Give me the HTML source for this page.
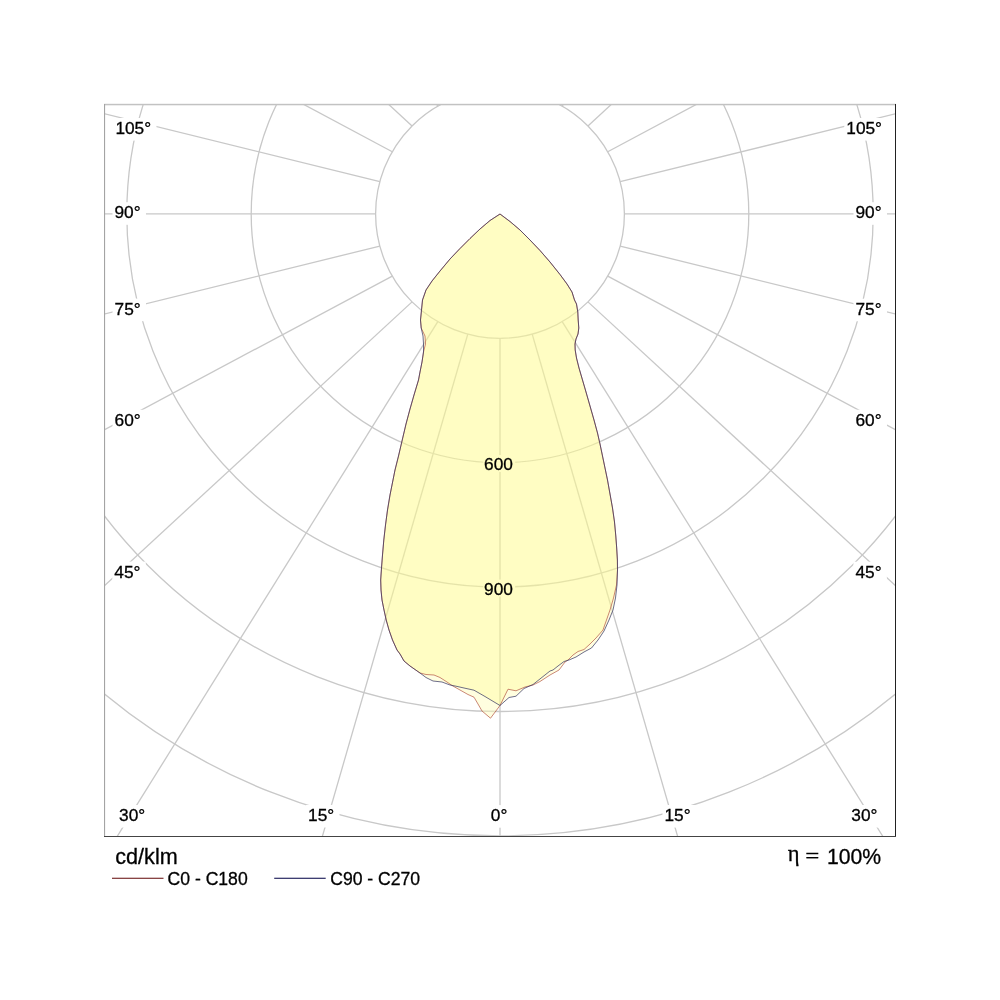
<!DOCTYPE html>
<html lang="en">
<head>
<meta charset="utf-8">
<title>Polar luminous intensity diagram</title>
<style>
html,body{margin:0;padding:0;background:#fff;}
body{width:1000px;height:1000px;overflow:hidden;font-family:"Liberation Sans",sans-serif;}
svg{display:block;}
</style>
</head>
<body>
<svg width="1000" height="1000" viewBox="0 0 1000 1000">
<defs><clipPath id="fc"><rect x="104.5" y="104.5" width="791" height="732"/></clipPath></defs>
<rect x="0" y="0" width="1000" height="1000" fill="#ffffff"/>
<g clip-path="url(#fc)">
<g fill="none" stroke="#c8c8c8" stroke-width="1.3">
<circle cx="500" cy="213.9" r="124.4"/>
<circle cx="500" cy="213.9" r="248.8"/>
<circle cx="500" cy="213.9" r="373.2"/>
<circle cx="500" cy="213.9" r="497.6"/>
<circle cx="500" cy="213.9" r="622"/>
<line x1="500" y1="338.3" x2="500" y2="1538.3"/>
<line x1="532.2" y1="334.06" x2="865.91" y2="1486.72"/>
<line x1="467.8" y1="334.06" x2="134.09" y2="1486.72"/>
<line x1="562.2" y1="321.63" x2="1196.6" y2="1340.23"/>
<line x1="437.8" y1="321.63" x2="-196.6" y2="1340.23"/>
<line x1="587.96" y1="301.86" x2="1469.98" y2="1115.53"/>
<line x1="412.04" y1="301.86" x2="-469.98" y2="1115.53"/>
<line x1="607.73" y1="276.1" x2="1666.37" y2="841.16"/>
<line x1="392.27" y1="276.1" x2="-666.37" y2="841.16"/>
<line x1="620.16" y1="246.1" x2="1785.28" y2="533.31"/>
<line x1="379.84" y1="246.1" x2="-785.28" y2="533.31"/>
<line x1="624.4" y1="213.9" x2="1824.4" y2="213.9"/>
<line x1="375.6" y1="213.9" x2="-824.4" y2="213.9"/>
<line x1="620.16" y1="181.7" x2="1785.28" y2="-105.51"/>
<line x1="379.84" y1="181.7" x2="-785.28" y2="-105.51"/>
<line x1="607.73" y1="151.7" x2="1666.37" y2="-413.36"/>
<line x1="392.27" y1="151.7" x2="-666.37" y2="-413.36"/>
<line x1="587.96" y1="125.94" x2="1469.98" y2="-687.73"/>
<line x1="412.04" y1="125.94" x2="-469.98" y2="-687.73"/>
<line x1="562.2" y1="106.17" x2="1196.6" y2="-912.43"/>
<line x1="437.8" y1="106.17" x2="-196.6" y2="-912.43"/>
<line x1="532.2" y1="93.74" x2="865.91" y2="-1058.92"/>
<line x1="467.8" y1="93.74" x2="134.09" y2="-1058.92"/>
</g>
<rect x="113.39" y="118" width="43.08" height="22.6" fill="#ffffff"/>
<rect x="112.51" y="202.2" width="33.46" height="22.6" fill="#ffffff"/>
<rect x="112.56" y="298.6" width="33.46" height="22.6" fill="#ffffff"/>
<rect x="112.56" y="409.75" width="33.46" height="22.6" fill="#ffffff"/>
<rect x="112.31" y="561.6" width="33.46" height="22.6" fill="#ffffff"/>
<rect x="117.06" y="805" width="33.46" height="22.6" fill="#ffffff"/>
<rect x="306.04" y="804.9" width="33.46" height="22.6" fill="#ffffff"/>
<rect x="488.81" y="805.1" width="23.84" height="22.6" fill="#ffffff"/>
<rect x="662.49" y="805" width="33.46" height="22.6" fill="#ffffff"/>
<rect x="849.31" y="805" width="33.46" height="22.6" fill="#ffffff"/>
<rect x="853.41" y="561.7" width="33.46" height="22.6" fill="#ffffff"/>
<rect x="853.51" y="409.7" width="33.46" height="22.6" fill="#ffffff"/>
<rect x="853.51" y="298.7" width="33.46" height="22.6" fill="#ffffff"/>
<rect x="853.51" y="202.2" width="33.46" height="22.6" fill="#ffffff"/>
<rect x="844.29" y="118" width="43.08" height="22.6" fill="#ffffff"/>
<rect x="483.2" y="455" width="32" height="17" fill="#ffffff"/>
<rect x="483.2" y="579.6" width="32" height="17" fill="#ffffff"/>
<path d="M500 214 L510 221.5 L520 230 L530 240 L540 250.5 L550 262 L560 274.5 L567 284 L572 292 L574.5 300 L576.5 304 L577.8 312 L578.2 320 L578.8 328 L578 334 L576 339 L575 344 L575.2 350 L576.5 358 L579 368 L582.5 380 L586 392 L590 406 L594 420 L597.5 433 L600 444 L602.5 456 L605 468 L607.5 480 L610 494 L612.5 508 L614.5 522 L615.8 536 L616.7 548 L617.4 560 L617.5 570 L616.5 585 L613.5 598 L610 610 L606.5 620 L603 630 L596 638 L590 644 L584 649.5 L578 651.5 L573 655 L568 660 L565 662 L559 670 L550 675 L540 681.5 L533 685 L525 687 L516 690.8 L508 689.2 L500 705.5 L490.5 718.2 L482 711 L478 704 L474 697.2 L468 694.5 L460 690 L452 685.5 L447 682 L440 677.5 L434 675 L426 674.5 L420 673 L410 666 L404 661 L400 654 L397 650 L392.5 640 L389 630 L386.2 620 L384 610 L382 600 L381 590 L380.7 580 L381 575 L381.5 568 L382.5 555 L383.8 540 L385.5 525 L387.5 510 L390 495 L393 480 L395 470 L398.5 456 L402 441 L406 424 L410 409 L414 395 L418.5 380 L420 372 L422 362 L423.5 352 L425.5 344 L425 336 L421.2 328 L420.5 320 L421.5 310 L422.5 300 L426 290 L432 281 L440 271 L450 259 L460 248.5 L470 238.5 L480 229 L490 220.5 Z M500 214 L510 221.5 L520 230 L530 240 L540 250.5 L550 262 L560 274.5 L567 284 L572 292 L574.5 300 L576.5 304 L577.8 312 L578.2 320 L578.8 328 L578 334 L576 339 L575 344 L575.2 350 L576.5 358 L579 368 L582.5 380 L586 392 L590 406 L594 420 L597.5 433 L600 444 L602.5 456 L605 468 L607.5 480 L610 494 L612.5 508 L614.5 522 L615.8 536 L616.7 548 L617.4 560 L617.5 570 L617 585 L615.5 598 L613 610 L609 620 L604 631 L598 640 L591.5 648 L584 652 L576 657 L569 660 L564 661.5 L558 666 L553 670 L550 671 L533 684.5 L524 688.5 L516 696.2 L509 697.5 L500 705.5 L485 696.5 L474 690.2 L464 688 L456 686.2 L450 685 L442 682 L433 681 L426 677.5 L420 673 L410 666 L404 661 L400 654 L397 650 L392.5 640 L389 630 L386.2 620 L384 610 L382 600 L381 590 L380.7 580 L381 575 L381.5 568 L382.5 555 L383.8 540 L385.5 525 L387.5 510 L390 495 L393 480 L395 470 L398.5 456 L402 441 L406 424 L410 409 L414 395 L418.5 380 L420 372 L422 362 L423.5 352 L423.5 344 L423 336 L421.2 328 L420.5 320 L421.5 310 L422.5 300 L426 290 L432 281 L440 271 L450 259 L460 248.5 L470 238.5 L480 229 L490 220.5 Z" fill="#ffffff" fill-opacity="0.4" fill-rule="nonzero" stroke="none"/>
<polygon points="500,214 510,221.5 520,230 530,240 540,250.5 550,262 560,274.5 567,284 572,292 574.5,300 576.5,304 577.8,312 578.2,320 578.8,328 578,334 576,339 575,344 575.2,350 576.5,358 579,368 582.5,380 586,392 590,406 594,420 597.5,433 600,444 602.5,456 605,468 607.5,480 610,494 612.5,508 614.5,522 615.8,536 616.7,548 617.4,560 617.5,570 616.5,585 613.5,598 610,610 606.5,620 603,630 596,638 590,644 584,649.5 578,651.5 573,655 568,660 565,662 559,670 550,675 540,681.5 533,685 525,687 516,690.8 508,689.2 500,705.5 490.5,718.2 482,711 478,704 474,697.2 468,694.5 460,690 452,685.5 447,682 440,677.5 434,675 426,674.5 420,673 410,666 404,661 400,654 397,650 392.5,640 389,630 386.2,620 384,610 382,600 381,590 380.7,580 381,575 381.5,568 382.5,555 383.8,540 385.5,525 387.5,510 390,495 393,480 395,470 398.5,456 402,441 406,424 410,409 414,395 418.5,380 420,372 422,362 423.5,352 425.5,344 425,336 421.2,328 420.5,320 421.5,310 422.5,300 426,290 432,281 440,271 450,259 460,248.5 470,238.5 480,229 490,220.5" fill="#fff700" fill-opacity="0.125" stroke="none"/>
<polygon points="500,214 510,221.5 520,230 530,240 540,250.5 550,262 560,274.5 567,284 572,292 574.5,300 576.5,304 577.8,312 578.2,320 578.8,328 578,334 576,339 575,344 575.2,350 576.5,358 579,368 582.5,380 586,392 590,406 594,420 597.5,433 600,444 602.5,456 605,468 607.5,480 610,494 612.5,508 614.5,522 615.8,536 616.7,548 617.4,560 617.5,570 617,585 615.5,598 613,610 609,620 604,631 598,640 591.5,648 584,652 576,657 569,660 564,661.5 558,666 553,670 550,671 533,684.5 524,688.5 516,696.2 509,697.5 500,705.5 485,696.5 474,690.2 464,688 456,686.2 450,685 442,682 433,681 426,677.5 420,673 410,666 404,661 400,654 397,650 392.5,640 389,630 386.2,620 384,610 382,600 381,590 380.7,580 381,575 381.5,568 382.5,555 383.8,540 385.5,525 387.5,510 390,495 393,480 395,470 398.5,456 402,441 406,424 410,409 414,395 418.5,380 420,372 422,362 423.5,352 423.5,344 423,336 421.2,328 420.5,320 421.5,310 422.5,300 426,290 432,281 440,271 450,259 460,248.5 470,238.5 480,229 490,220.5" fill="#fff700" fill-opacity="0.125" stroke="none"/>
<polygon points="500,214 510,221.5 520,230 530,240 540,250.5 550,262 560,274.5 567,284 572,292 574.5,300 576.5,304 577.8,312 578.2,320 578.8,328 578,334 576,339 575,344 575.2,350 576.5,358 579,368 582.5,380 586,392 590,406 594,420 597.5,433 600,444 602.5,456 605,468 607.5,480 610,494 612.5,508 614.5,522 615.8,536 616.7,548 617.4,560 617.5,570 616.5,585 613.5,598 610,610 606.5,620 603,630 596,638 590,644 584,649.5 578,651.5 573,655 568,660 565,662 559,670 550,675 540,681.5 533,685 525,687 516,690.8 508,689.2 500,705.5 490.5,718.2 482,711 478,704 474,697.2 468,694.5 460,690 452,685.5 447,682 440,677.5 434,675 426,674.5 420,673 410,666 404,661 400,654 397,650 392.5,640 389,630 386.2,620 384,610 382,600 381,590 380.7,580 381,575 381.5,568 382.5,555 383.8,540 385.5,525 387.5,510 390,495 393,480 395,470 398.5,456 402,441 406,424 410,409 414,395 418.5,380 420,372 422,362 423.5,352 425.5,344 425,336 421.2,328 420.5,320 421.5,310 422.5,300 426,290 432,281 440,271 450,259 460,248.5 470,238.5 480,229 490,220.5" fill="none" stroke="#b8604c" stroke-width="1.0" stroke-opacity="0.75" stroke-linejoin="round"/>
<polygon points="500,214 510,221.5 520,230 530,240 540,250.5 550,262 560,274.5 567,284 572,292 574.5,300 576.5,304 577.8,312 578.2,320 578.8,328 578,334 576,339 575,344 575.2,350 576.5,358 579,368 582.5,380 586,392 590,406 594,420 597.5,433 600,444 602.5,456 605,468 607.5,480 610,494 612.5,508 614.5,522 615.8,536 616.7,548 617.4,560 617.5,570 617,585 615.5,598 613,610 609,620 604,631 598,640 591.5,648 584,652 576,657 569,660 564,661.5 558,666 553,670 550,671 533,684.5 524,688.5 516,696.2 509,697.5 500,705.5 485,696.5 474,690.2 464,688 456,686.2 450,685 442,682 433,681 426,677.5 420,673 410,666 404,661 400,654 397,650 392.5,640 389,630 386.2,620 384,610 382,600 381,590 380.7,580 381,575 381.5,568 382.5,555 383.8,540 385.5,525 387.5,510 390,495 393,480 395,470 398.5,456 402,441 406,424 410,409 414,395 418.5,380 420,372 422,362 423.5,352 423.5,344 423,336 421.2,328 420.5,320 421.5,310 422.5,300 426,290 432,281 440,271 450,259 460,248.5 470,238.5 480,229 490,220.5" fill="none" stroke="#30305e" stroke-width="1.0" stroke-opacity="0.7" stroke-linejoin="round"/>
<text x="115.39" y="134" font-family="'Liberation Sans', sans-serif" font-size="17.3" fill="#000" stroke="#000" stroke-width="0.3">105°</text>
<text x="114.51" y="218.2" font-family="'Liberation Sans', sans-serif" font-size="17.3" fill="#000" stroke="#000" stroke-width="0.3">90°</text>
<text x="114.56" y="314.6" font-family="'Liberation Sans', sans-serif" font-size="17.3" fill="#000" stroke="#000" stroke-width="0.3">75°</text>
<text x="114.56" y="425.75" font-family="'Liberation Sans', sans-serif" font-size="17.3" fill="#000" stroke="#000" stroke-width="0.3">60°</text>
<text x="114.31" y="577.6" font-family="'Liberation Sans', sans-serif" font-size="17.3" fill="#000" stroke="#000" stroke-width="0.3">45°</text>
<text x="119.06" y="821" font-family="'Liberation Sans', sans-serif" font-size="17.3" fill="#000" stroke="#000" stroke-width="0.3">30°</text>
<text x="308.04" y="820.9" font-family="'Liberation Sans', sans-serif" font-size="17.3" fill="#000" stroke="#000" stroke-width="0.3">15°</text>
<text x="490.81" y="821.1" font-family="'Liberation Sans', sans-serif" font-size="17.3" fill="#000" stroke="#000" stroke-width="0.3">0°</text>
<text x="664.49" y="821" font-family="'Liberation Sans', sans-serif" font-size="17.3" fill="#000" stroke="#000" stroke-width="0.3">15°</text>
<text x="851.31" y="821" font-family="'Liberation Sans', sans-serif" font-size="17.3" fill="#000" stroke="#000" stroke-width="0.3">30°</text>
<text x="855.41" y="577.7" font-family="'Liberation Sans', sans-serif" font-size="17.3" fill="#000" stroke="#000" stroke-width="0.3">45°</text>
<text x="855.51" y="425.7" font-family="'Liberation Sans', sans-serif" font-size="17.3" fill="#000" stroke="#000" stroke-width="0.3">60°</text>
<text x="855.51" y="314.7" font-family="'Liberation Sans', sans-serif" font-size="17.3" fill="#000" stroke="#000" stroke-width="0.3">75°</text>
<text x="855.51" y="218.2" font-family="'Liberation Sans', sans-serif" font-size="17.3" fill="#000" stroke="#000" stroke-width="0.3">90°</text>
<text x="846.29" y="134" font-family="'Liberation Sans', sans-serif" font-size="17.3" fill="#000" stroke="#000" stroke-width="0.3">105°</text>
<text x="484.11" y="470" font-family="'Liberation Sans', sans-serif" font-size="17.3" fill="#000" stroke="#000" stroke-width="0.3">600</text>
<text x="484.11" y="594.6" font-family="'Liberation Sans', sans-serif" font-size="17.3" fill="#000" stroke="#000" stroke-width="0.3">900</text>
</g>
<rect x="104" y="103.8" width="792" height="1.5" fill="#c2c2c2"/>
<rect x="104" y="104" width="1.1" height="733" fill="#a4a4a4"/>
<rect x="895" y="104" width="1" height="733" fill="#222222"/>
<rect x="104" y="836" width="792" height="1" fill="#444444"/>
<text x="115.3" y="863.7" font-family="'Liberation Sans', sans-serif" font-size="21.6" fill="#000" stroke="#000" stroke-width="0.3">cd/klm</text>
<text x="787.8" y="861" font-family="'Liberation Serif', 'DejaVu Serif', serif" font-size="22.5" fill="#000" stroke="#000" stroke-width="0.3">η</text>
<text transform="translate(805.2 862.5) scale(1.16 1)" x="0" y="0" font-family="'Liberation Serif', 'DejaVu Serif', serif" font-size="21.5" fill="#000" stroke="#000" stroke-width="0.3">=</text>
<text x="826.9" y="863.7" font-family="'Liberation Sans', sans-serif" font-size="21.2" fill="#000" stroke="#000" stroke-width="0.3">100%</text>
<rect x="112" y="877.7" width="51.5" height="1.2" fill="#7c3030"/>
<text x="167.5" y="885" font-family="'Liberation Sans', sans-serif" font-size="17.6" fill="#000" stroke="#000" stroke-width="0.3">C0 - C180</text>
<rect x="274.2" y="877.7" width="51.5" height="1.2" fill="#2a2a62"/>
<text x="330.2" y="885" font-family="'Liberation Sans', sans-serif" font-size="17.6" fill="#000" stroke="#000" stroke-width="0.3">C90 - C270</text>
</svg>
</body>
</html>
